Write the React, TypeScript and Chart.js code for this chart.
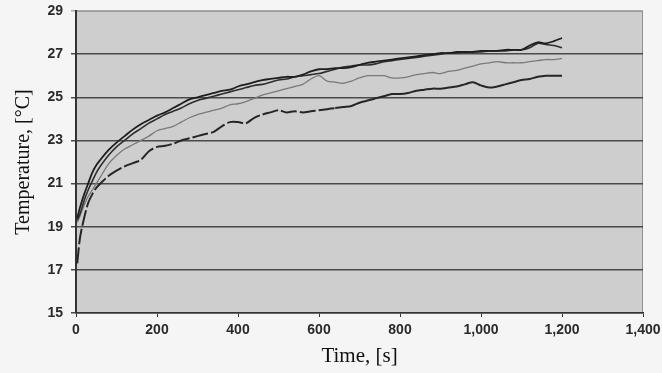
import { useEffect, useRef } from "react";
import { Chart, registerables } from "chart.js";
Chart.register(...registerables);

const times = [3, 10, 20, 30, 40, 50, 60, 80, 100, 120, 140, 160, 180, 200, 220, 240, 260, 280, 300, 320, 340, 360, 380, 400, 420, 440, 460, 480, 500, 520, 540, 560, 580, 600, 620, 640, 660, 680, 700, 720, 740, 760, 780, 800, 820, 840, 860, 880, 900, 920, 940, 960, 980, 1000, 1020, 1040, 1060, 1080, 1100, 1120, 1140, 1160, 1180, 1200];

const seriesA = [19.4, 19.9, 20.5, 21.0, 21.5, 21.85, 22.1, 22.55, 22.9, 23.2, 23.5, 23.75, 23.95, 24.15, 24.3, 24.5, 24.7, 24.9, 25.0, 25.1, 25.2, 25.3, 25.35, 25.5, 25.6, 25.7, 25.8, 25.85, 25.9, 25.95, 25.95, 26.05, 26.2, 26.3, 26.3, 26.35, 26.35, 26.4, 26.5, 26.6, 26.65, 26.7, 26.75, 26.8, 26.85, 26.9, 26.95, 27.0, 27.05, 27.05, 27.1, 27.1, 27.1, 27.15, 27.15, 27.15, 27.2, 27.2, 27.2, 27.4, 27.55, 27.5, 27.6, 27.75];

const seriesB = [19.3, 19.6, 20.2, 20.7, 21.1, 21.5, 21.8, 22.3, 22.7, 23.0, 23.3, 23.55, 23.8, 24.0, 24.2, 24.35, 24.5, 24.7, 24.85, 24.95, 25.05, 25.15, 25.25, 25.35, 25.45, 25.55, 25.6, 25.7, 25.8, 25.85, 25.95, 26.0, 26.05, 26.1, 26.2, 26.3, 26.4, 26.45, 26.5, 26.5, 26.55, 26.65, 26.7, 26.75, 26.8, 26.85, 26.9, 26.95, 27.0, 27.05, 27.05, 27.1, 27.1, 27.1, 27.15, 27.15, 27.15, 27.2, 27.2, 27.3, 27.5, 27.45, 27.4, 27.3];

const seriesC = [19.2, 19.5, 20.0, 20.4, 20.7, 21.0, 21.3, 21.9, 22.3, 22.6, 22.8, 23.0, 23.2, 23.45, 23.55, 23.65, 23.85, 24.05, 24.2, 24.3, 24.4, 24.5, 24.65, 24.7, 24.8, 24.95, 25.1, 25.2, 25.3, 25.4, 25.5, 25.6, 25.85, 26.0, 25.75, 25.7, 25.65, 25.75, 25.9, 26.0, 26.0, 26.0, 25.9, 25.9, 25.95, 26.05, 26.1, 26.15, 26.1, 26.2, 26.25, 26.35, 26.45, 26.55, 26.6, 26.65, 26.6, 26.6, 26.6, 26.65, 26.7, 26.75, 26.75, 26.8];

const seriesD = [17.3, 18.5, 19.4, 20.1, 20.5, 20.8, 21.0, 21.35, 21.6, 21.8, 21.95, 22.1, 22.5, 22.7, 22.75, 22.85, 23.0, 23.1, 23.2, 23.3, 23.4, 23.65, 23.85, 23.85, 23.8, 24.05, 24.2, 24.3, 24.4, 24.3, 24.35, 24.3, 24.35, 24.4, 24.45, 24.5, 24.55, 24.6, 24.75, 24.85, 24.95, 25.05, 25.15, 25.15, 25.2, 25.3, 25.35, 25.4, 25.4, 25.45, 25.5, 25.6, 25.7, 25.55, 25.45, 25.5, 25.6, 25.7, 25.8, 25.85, 25.95, 26.0, 26.0, 26.0];

const xTicks = [0, 200, 400, 600, 800, 1000, 1200, 1400];
const yTicks = [15, 17, 19, 21, 23, 25, 27, 29];

export default function App() {
  const ref = useRef<HTMLCanvasElement>(null);
  useEffect(() => {
    const bgPlugin = {
      id: "plotBg",
      beforeDraw(chart: any) {
        const { ctx, chartArea: a } = chart;
        ctx.save();
        ctx.fillStyle = "#f5f5f5";
        ctx.fillRect(0, 0, chart.width, chart.height);
        ctx.fillStyle = "#cecece";
        ctx.fillRect(a.left, a.top, a.right - a.left, a.bottom - a.top);
        ctx.strokeStyle = "#8f8f8f";
        ctx.lineWidth = 1;
        ctx.strokeRect(a.left + 0.5, a.top + 0.5, a.right - a.left - 1, a.bottom - a.top - 1);
        ctx.restore();
      },
    };
    const mk = (vals: number[]) => times.map((t, i) => ({ x: t, y: vals[i] }));
    const tickFont = { family: "'Liberation Sans', Arial, sans-serif", size: 14, weight: "bold" as const };
    const titleFontX = { family: "'Liberation Serif', 'Times New Roman', serif", size: 21 };
    const titleFontY = { family: "'Liberation Serif', 'Times New Roman', serif", size: 20 };
    const chart = new Chart(ref.current!, {
      type: "line",
      data: {
        datasets: [
          { data: mk(seriesA), borderColor: "#1e1e1e", borderWidth: 1.8 },
          { data: mk(seriesB), borderColor: "#2e2e2e", borderWidth: 1.6 },
          { data: mk(seriesC), borderColor: "#7a7a7a", borderWidth: 1.3 },
          {
            data: mk(seriesD),
            borderColor: "#262626",
            borderWidth: 2,
            segment: { borderDash: (c: any) => (c.p0.parsed.x < 640 ? [16, 3] : undefined) },
          },
        ],
      },
      options: {
        responsive: false,
        animation: false,
        layout: { padding: { top: 11, right: 19, left: 0, bottom: 0 } },
        plugins: { legend: { display: false }, tooltip: { enabled: false } },
        elements: { point: { radius: 0 }, line: { tension: 0.3 } },
        scales: {
          x: {
            type: "linear",
            min: 0,
            max: 1400,
            afterBuildTicks: (s: any) => {
              s.ticks = xTicks.map((v) => ({ value: v }));
            },
            afterFit: (s: any) => {
              s.height = 60;
              s.paddingLeft = 0;
              s.paddingRight = 0;
            },
            ticks: {
              font: tickFont,
              color: "#2a2a2a",
              padding: 5,
              maxRotation: 0,
              callback: (v: any) => Number(v).toLocaleString("en-US"),
            },
            grid: { drawOnChartArea: false, color: "#333", tickLength: 4 },
            border: { color: "#333", width: 1.5 },
            title: {
              display: true,
              text: "Time, [s]",
              font: titleFontX,
              color: "#111",
              padding: { top: 0, bottom: 4 },
            },
          },
          y: {
            type: "linear",
            min: 15,
            max: 29,
            afterBuildTicks: (s: any) => {
              s.ticks = yTicks.map((v) => ({ value: v }));
            },
            afterFit: (s: any) => {
              s.width = 76;
              s.paddingTop = 0;
              s.paddingBottom = 0;
            },
            ticks: { font: tickFont, color: "#2a2a2a", padding: 8 },
            grid: {
              color: (c: any) => (c.tick && c.tick.value === 29 ? "#a8a8a8" : "#4a4a4a"),
              lineWidth: 1.5,
              tickLength: 5,
            },
            border: { color: "#333", width: 2 },
            title: {
              display: true,
              text: "Temperature, [°C]",
              font: titleFontY,
              color: "#111",
              padding: { top: 12, bottom: 0 },
            },
          },
        },
      },
      plugins: [bgPlugin],
    });
    return () => chart.destroy();
  }, []);
  return (
    <div style={{ position: "fixed", left: 0, top: 0, width: 662, height: 373 }}>
      <canvas ref={ref} width={662} height={373} />
    </div>
  );
}
